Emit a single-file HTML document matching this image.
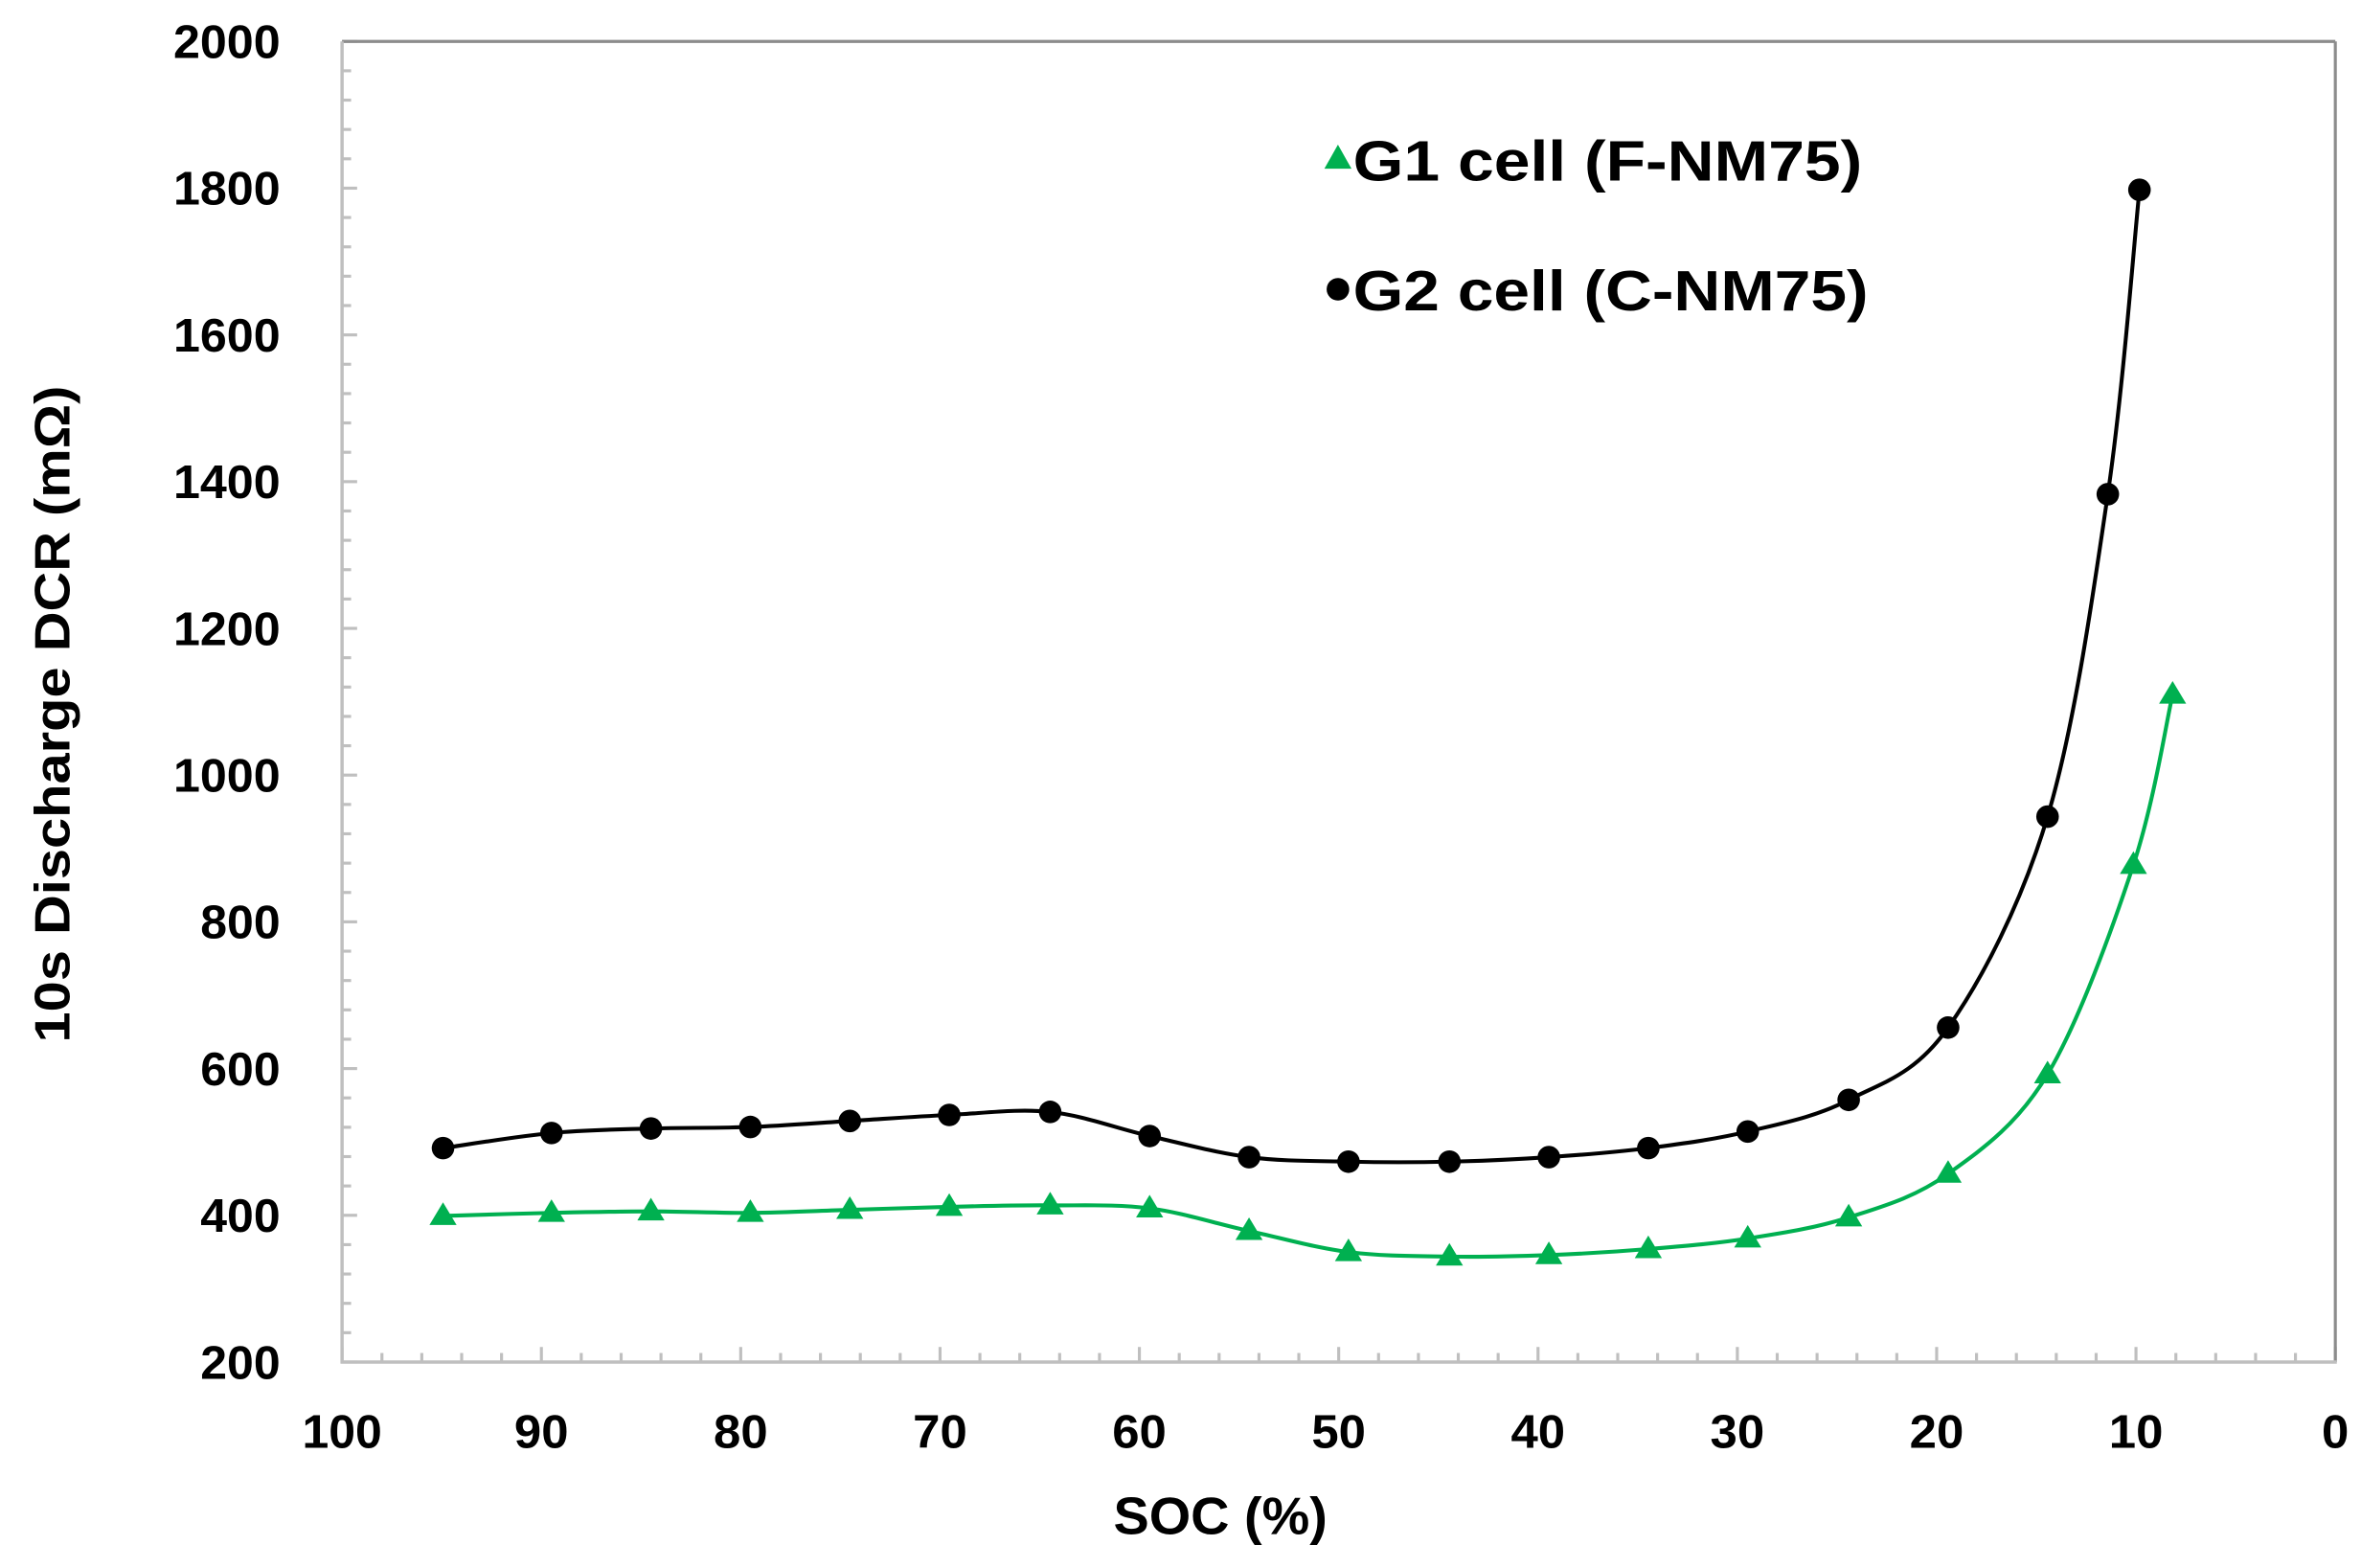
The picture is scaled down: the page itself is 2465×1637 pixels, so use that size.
<!DOCTYPE html>
<html><head><meta charset="utf-8"><style>
html,body{margin:0;padding:0;background:#fff;}
svg{display:block;}
text{font-family:"Liberation Sans",sans-serif;font-weight:bold;fill:#000;}
</style></head><body>
<svg id="s" width="2465" height="1637" viewBox="0 0 1567 1040.7" xmlns="http://www.w3.org/2000/svg">
<rect x="0" y="0" width="1567" height="1041" fill="#fff"/>
<g id="ticks" stroke="#bfbfbf" stroke-width="2"></g>
<line x1="227" y1="27.5" x2="1550" y2="27.5" stroke="#8c8c8c" stroke-width="2"/>
<line x1="1550" y1="27.5" x2="1550" y2="904" stroke="#8c8c8c" stroke-width="2"/>
<line x1="227" y1="27.5" x2="227" y2="905" stroke="#bfbfbf" stroke-width="2.2"/>
<line x1="226" y1="904" x2="1551" y2="904" stroke="#bfbfbf" stroke-width="2.2"/>
<g font-size="31" text-anchor="end" id="ylab"></g>
<g font-size="31" text-anchor="middle" id="xlab"></g>
<text x="810" y="1018" font-size="35" text-anchor="middle" textLength="142" lengthAdjust="spacingAndGlyphs">SOC (%)</text>
<text transform="translate(46,474) rotate(-90)" font-size="33" text-anchor="middle" textLength="436" lengthAdjust="spacingAndGlyphs">10s Discharge DCR (mΩ)</text>
<path id="gp" fill="none" stroke="#00b050" stroke-width="2.6"/>
<path id="bp" fill="none" stroke="#000" stroke-width="2.6"/>
<g id="gm" fill="#00b050"></g>
<g id="bm" fill="#000"></g>
<polygon points="888,96 897,112 879,112" fill="#00b050"/>
<text x="898" y="120" font-size="38" textLength="338" lengthAdjust="spacingAndGlyphs">G1 cell (F-NM75)</text>
<circle cx="888" cy="192" r="7.5" fill="#000"/>
<text x="898" y="206" font-size="38" textLength="342" lengthAdjust="spacingAndGlyphs">G2 cell (C-NM75)</text>
</svg>
<script>
var NS="http://www.w3.org/2000/svg";
function el(t,a,p,txt){var e=document.createElementNS(NS,t);for(var k in a)e.setAttribute(k,a[k]);if(txt!==undefined)e.textContent=txt;document.getElementById(p).appendChild(e);return e;}
var X0=227,X1=1550,Y0=904,Y1=27.5;
for(var v=200;v<=2000;v+=40){var y=Y0-(v-200)/1800*(Y0-Y1);var maj=(v%200==0);el('line',{x1:227,x2:227+(maj?10:6),y1:y,y2:y},'ticks');}
for(var v=200;v<=2000;v+=200){var y=Y0-(v-200)/1800*(Y0-Y1);var s=''+v;el('text',{x:186,y:y+11,textLength:(s.length==4?71:53),lengthAdjust:'spacingAndGlyphs'},'ylab',s);}
for(var s=0;s<=100;s+=2){var x=X1-s/100*(X1-X0);var maj=(s%10==0);el('line',{x1:x,x2:x,y1:904,y2:904-(maj?10:6)},'ticks');}
for(var s=0;s<=100;s+=10){var x=X1-s/100*(X1-X0);var t=''+s;el('text',{x:x,y:961,textLength:(t.length==3?53:t.length==2?36:18),lengthAdjust:'spacingAndGlyphs'},'xlab',t);}
var B=[[294,762],[366,752],[432,749],[498,748],[564,744],[630,740],[697,738],[763,754],[829,768],[895,771],[962,771],[1028,768],[1094,762],[1160,751],[1227,730],[1293,682],[1359,542],[1399,328],[1420,126]];
var G=[[294,807],[366,805],[432,804],[498,805],[564,803],[630,801],[697,800],[763,802],[829,817],[895,831],[962,834],[1028,833],[1094,829],[1160,822],[1227,808],[1293,779],[1359,713],[1416,574],[1442,461]];
function smooth(P){var d="M"+P[0][0]+","+P[0][1];
for(var i=0;i<P.length-1;i++){var p0=P[i-1]||P[i],p1=P[i],p2=P[i+1],p3=P[i+2]||P[i+1];
var c1x=p1[0]+(p2[0]-p0[0])/6,c1y=p1[1]+(p2[1]-p0[1])/6,c2x=p2[0]-(p3[0]-p1[0])/6,c2y=p2[1]-(p3[1]-p1[1])/6;
d+=" C"+c1x+","+c1y+" "+c2x+","+c2y+" "+p2[0]+","+p2[1];}return d;}
document.getElementById('bp').setAttribute('d',smooth(B));
document.getElementById('gp').setAttribute('d',smooth(G));
B.forEach(function(p){el('circle',{cx:p[0],cy:p[1],r:7.5},'bm');});
G.forEach(function(p){el('polygon',{points:(p[0])+","+(p[1]-9)+" "+(p[0]+9)+","+(p[1]+6)+" "+(p[0]-9)+","+(p[1]+6)},'gm');});
</script>
</body></html>
